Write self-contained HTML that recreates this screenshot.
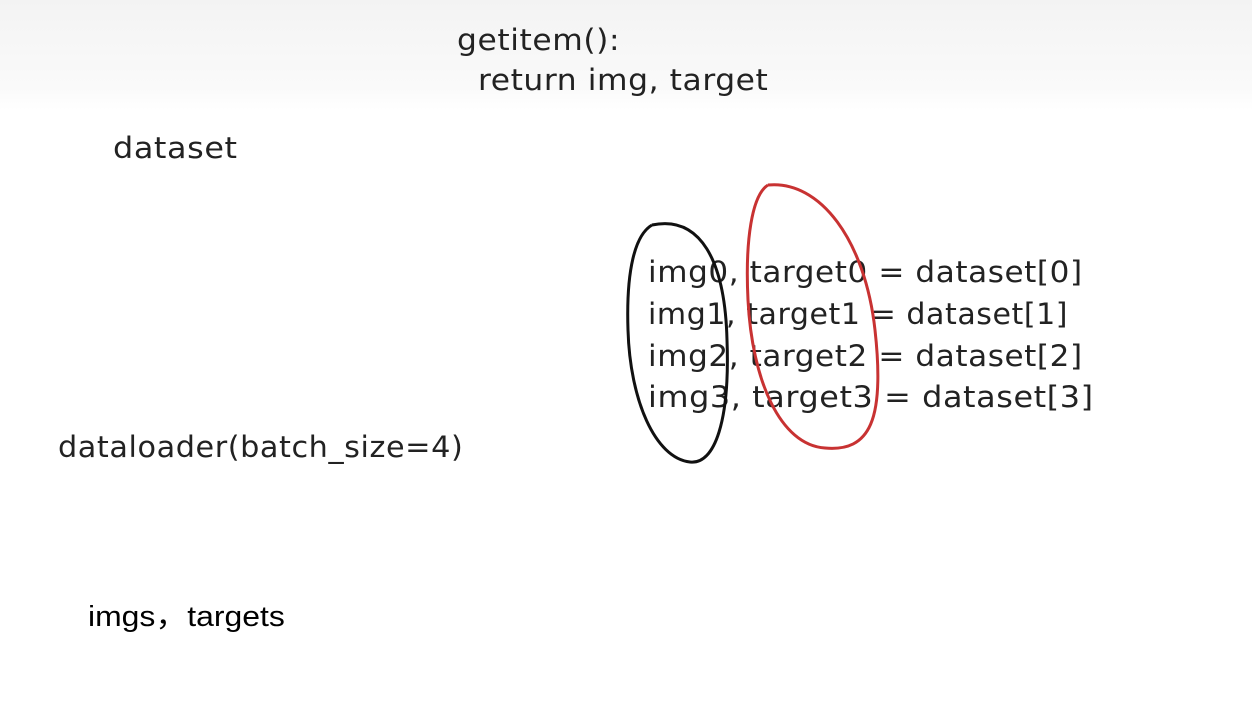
<!DOCTYPE html>
<html><head><meta charset="utf-8"><style>
html,body{margin:0;padding:0}
body{width:1252px;height:713px;position:relative;overflow:hidden;background:#fff;font-family:"DejaVu Sans","Liberation Sans",sans-serif}
.bg{position:absolute;left:0;top:0;width:1252px;height:110px;background:linear-gradient(#f3f3f3,#fafafa 80%,#fff)}
.t{position:absolute;color:#222;font-size:29px;font-weight:300;white-space:nowrap;letter-spacing:0.5px;font-family:"Liberation Sans Narrow","DejaVu Sans Condensed","DejaVu Sans",sans-serif;transform-origin:0 0;transform:scaleX(1.19)}
</style></head><body>
<div class="bg"></div>
<div class="t" style="left:457px;top:23px;transform:scaleX(1.2)">getitem():</div>
<div class="t" style="left:478px;top:63px;transform:scaleX(1.2)">return img, target</div>
<div class="t" style="left:113px;top:131px;transform:scaleX(1.22)">dataset</div>
<div class="t" style="left:648px;top:255px">img0, target0 = dataset[0]</div>
<div class="t" style="left:648px;top:297px;transform:scaleX(1.15)">img1, target1 = dataset[1]</div>
<div class="t" style="left:648px;top:339px">img2, target2 = dataset[2]</div>
<div class="t" style="left:648px;top:380px;transform:scaleX(1.22)">img3, target3 = dataset[3]</div>
<div class="t" style="left:58px;top:430px;transform:scaleX(1.16)">dataloader(batch_size=4)</div>
<div style="position:absolute;left:88px;top:593px;font-size:29px;color:#000;font-family:'Liberation Sans','Noto Sans CJK SC',sans-serif;transform-origin:0 0;transform:scaleX(1.1)">imgs，targets</div>
<svg width="1252" height="713" style="position:absolute;left:0;top:0">
<path d="M652,225 C700,215 725,260 727,340 C730,420 715,465 690,462 C655,458 630,400 628,330 C626,270 635,235 652,225" fill="none" stroke="#111" stroke-width="3"/>
<path d="M768,185 C820,180 865,240 875,330 C885,420 870,452 825,448 C780,445 752,380 748,300 C745,240 752,195 768,185" fill="none" stroke="#c83232" stroke-width="3"/>
</svg>
</body></html>
